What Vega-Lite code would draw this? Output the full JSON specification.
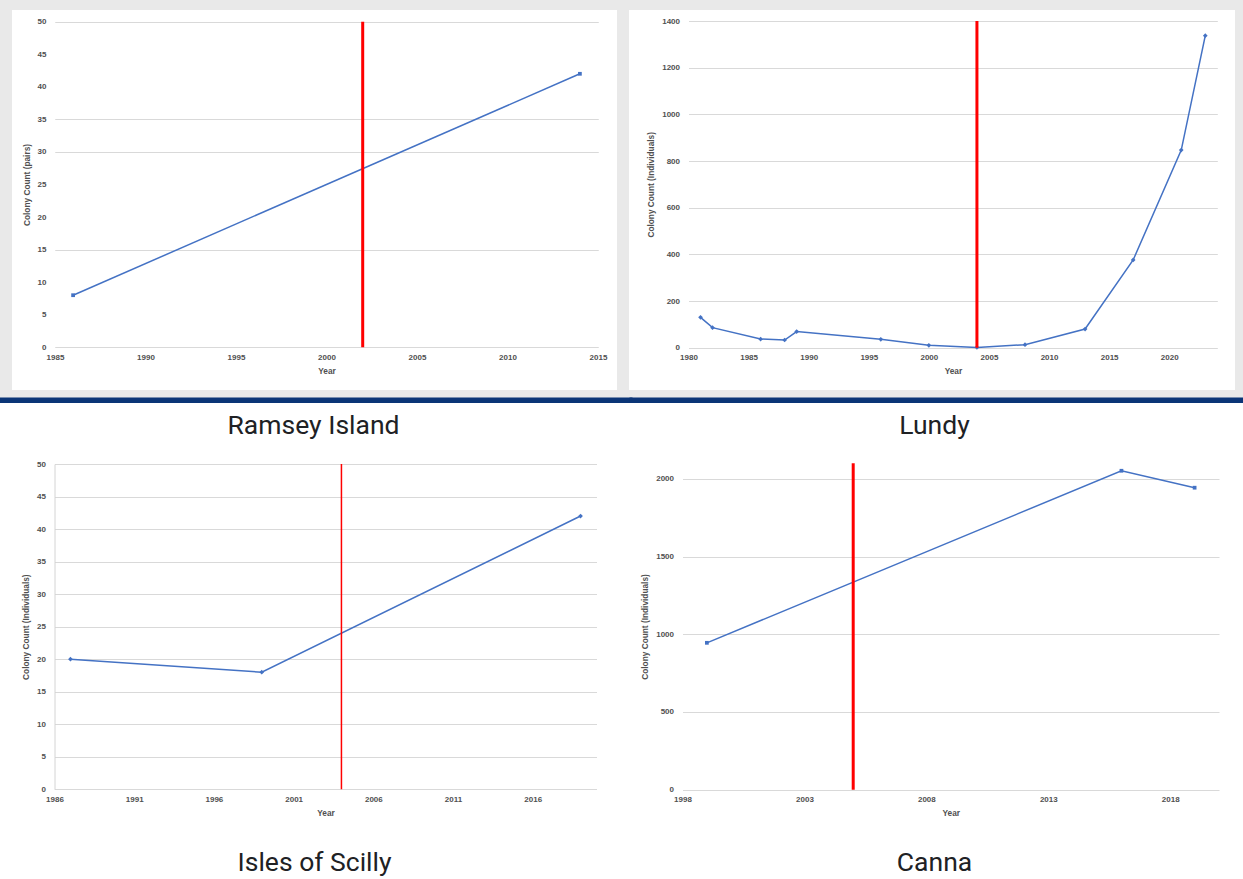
{
  "$schema": "https://vega.github.io/schema/vega-lite/v6.json",
  "background": "#e9e9e9",
  "padding": {"top": 10, "left": 0, "right": 0, "bottom": 0},
  "columns": 2,
  "spacing": {"row": 0, "column": 0},
  "bounds": "flush",
  "center": true,
  "datasets": {
    "ramsey": [{"year": 1986, "count": 8}, {"year": 2014, "count": 42}],
    "lundy": [
      {"year": 1981, "count": 130}, {"year": 1982, "count": 86}, {"year": 1986, "count": 37},
      {"year": 1988, "count": 33}, {"year": 1989, "count": 69}, {"year": 1996, "count": 36},
      {"year": 2000, "count": 10}, {"year": 2004, "count": 1}, {"year": 2008, "count": 13},
      {"year": 2013, "count": 80}, {"year": 2017, "count": 376}, {"year": 2021, "count": 847},
      {"year": 2023, "count": 1337}
    ],
    "scilly": [{"year": 1987, "count": 20}, {"year": 1999, "count": 18}, {"year": 2019, "count": 42}],
    "canna": [{"year": 1999, "count": 945}, {"year": 2016, "count": 2052}, {"year": 2019, "count": 1943}],
    "bar": [{"v": 0.5}]
  },
  "concat": [
    {
      "width": 605, "height": 380,
      "view": {"fill": "white", "stroke": null},
      "data": {"name": "ramsey"},
      "resolve": {"axis": {"y": "independent"}},
      "layer": [
        {
          "mark": {"type": "line", "color": "#4472c4", "strokeWidth": 1.5},
          "encoding": {
            "x": {"field": "year", "type": "quantitative",
              "scale": {"domain": [1985, 2015], "range": [43, 586], "nice": false, "zero": false},
              "axis": {"title": "Year", "values": [1985, 1990, 1995, 2000, 2005, 2010, 2015], "format": "d", "offset": -42.7}},
            "y": {"field": "count", "type": "quantitative",
              "scale": {"domain": [0, 50], "range": [337.3, 11.7], "nice": false},
              "axis": {"title": "Colony Count (pairs)", "values": [0, 5, 10, 15, 20, 25, 30, 35, 40, 45, 50], "offset": -43, "grid": false}}
          }
        },
        {
          "mark": {"type": "point", "shape": "square", "filled": true, "size": 14, "color": "#4472c4", "opacity": 1},
          "encoding": {
            "x": {"field": "year", "type": "quantitative"},
            "y": {"field": "count", "type": "quantitative",
              "axis": {"orient": "left", "offset": -43, "values": [0, 15, 30, 35, 50], "labels": false, "title": null, "grid": true}}
          }
        },
        {
          "data": {"values": [{"year": 2002}]},
          "mark": {"type": "rule", "color": "#ff0000", "strokeWidth": 3},
          "encoding": {
            "x": {"field": "year", "type": "quantitative"},
            "y": {"datum": 50, "axis": {"orient": "left", "offset": -43, "values": [0, 15, 30, 35, 50], "labels": false, "title": null, "grid": true}},
            "y2": {"datum": 0}
          }
        }
      ]
    },
    {
      "width": 606, "height": 380,
      "view": {"fill": "white", "stroke": null},
      "data": {"name": "lundy"},
      "layer": [
        {
          "mark": {"type": "line", "color": "#4472c4", "strokeWidth": 1.5},
          "encoding": {
            "x": {"field": "year", "type": "quantitative",
              "scale": {"domain": [1980, 2024], "range": [59.5, 588.3], "nice": false, "zero": false},
              "axis": {"title": "Year", "values": [1980, 1985, 1990, 1995, 2000, 2005, 2010, 2015, 2020], "format": "d", "offset": -42.3}},
            "y": {"field": "count", "type": "quantitative",
              "scale": {"domain": [0, 1400], "range": [337.7, 11], "nice": false},
              "axis": {"title": "Colony Count (Individuals)", "values": [0, 200, 400, 600, 800, 1000, 1200, 1400], "format": "d", "offset": -59.5}}
          }
        },
        {
          "mark": {"type": "point", "shape": "diamond", "filled": true, "size": 22, "color": "#4472c4", "opacity": 1},
          "encoding": {
            "x": {"field": "year", "type": "quantitative"},
            "y": {"field": "count", "type": "quantitative"}
          }
        },
        {
          "data": {"values": [{"year": 2004}]},
          "mark": {"type": "rule", "color": "#ff0000", "strokeWidth": 3},
          "encoding": {
            "x": {"field": "year", "type": "quantitative"},
            "y": {"datum": 1400},
            "y2": {"datum": 0}
          }
        }
      ]
    },
    {
      "width": 629, "height": 13,
      "data": {"name": "bar"},
      "mark": {"type": "point", "opacity": 0},
      "encoding": {
        "x": {"field": "v", "type": "quantitative", "scale": {"domain": [0, 1], "nice": false},
          "axis": {"domain": true, "domainColor": "#0b3577", "domainWidth": 6, "domainCap": "square", "labels": false, "ticks": false, "grid": false, "title": null, "offset": -3}}
      }
    },
    {
      "width": 614, "height": 13,
      "data": {"name": "bar"},
      "mark": {"type": "point", "opacity": 0},
      "encoding": {
        "x": {"field": "v", "type": "quantitative", "scale": {"domain": [0, 1], "nice": false},
          "axis": {"domain": true, "domainColor": "#0b3577", "domainWidth": 6, "domainCap": "butt", "labels": false, "ticks": false, "grid": false, "title": null, "offset": -3}}
      }
    },
    {
      "width": 629, "height": 476,
      "view": {"fill": "white", "stroke": null},
      "data": {"name": "scilly"},
      "resolve": {"axis": {"x": "independent"}},
      "layer": [
        {
          "mark": {"type": "line", "color": "#4472c4", "strokeWidth": 1.5},
          "encoding": {
            "x": {"field": "year", "type": "quantitative",
              "scale": {"domain": [1986, 2020], "range": [54.5, 596.5], "nice": false, "zero": false},
              "axis": {"title": "Year", "values": [1986, 1991, 1996, 2001, 2006, 2011, 2016], "format": "d", "offset": -89.7}},
            "y": {"field": "count", "type": "quantitative",
              "scale": {"domain": [0, 50], "range": [386.3, 61], "nice": false},
              "axis": {"title": "Colony Count (Individuals)", "values": [0, 5, 10, 15, 20, 25, 30, 35, 40, 45, 50], "offset": -54.5,
                "domain": true, "domainColor": "#d4d4d4", "domainWidth": 1}}
          }
        },
        {
          "mark": {"type": "point", "shape": "diamond", "filled": true, "size": 22, "color": "#4472c4", "opacity": 1},
          "encoding": {
            "x": {"field": "year", "type": "quantitative",
              "axis": {"orient": "top", "offset": 0, "title": "Ramsey Island", "labels": false, "ticks": false, "domain": false, "grid": false,
                "titleFont": "Roboto", "titleFontSize": 26.5, "titleFontWeight": "normal", "titleColor": "#202124",
                "titleX": 313, "titleY": 30, "titleAlign": "center", "titleBaseline": "alphabetic"}},
            "y": {"field": "count", "type": "quantitative"}
          }
        },
        {
          "data": {"values": [{"year": 2004}]},
          "mark": {"type": "rule", "color": "#ff0000", "strokeWidth": 1.5},
          "encoding": {
            "x": {"field": "year", "type": "quantitative",
              "axis": {"orient": "bottom", "offset": 0, "title": "Isles of Scilly", "labels": false, "ticks": false, "domain": false, "grid": false,
                "titleFont": "Roboto", "titleFontSize": 26.5, "titleFontWeight": "normal", "titleColor": "#202124",
                "titleX": 314, "titleY": -9, "titleAlign": "center", "titleBaseline": "alphabetic"}},
            "y": {"datum": 50},
            "y2": {"datum": 0}
          }
        }
      ]
    },
    {
      "width": 614, "height": 476,
      "view": {"fill": "white", "stroke": null},
      "data": {"name": "canna"},
      "resolve": {"axis": {"x": "independent"}},
      "layer": [
        {
          "mark": {"type": "line", "color": "#4472c4", "strokeWidth": 1.5},
          "encoding": {
            "x": {"field": "year", "type": "quantitative",
              "scale": {"domain": [1998, 2020], "range": [53.5, 590], "nice": false, "zero": false},
              "axis": {"title": "Year", "values": [1998, 2003, 2008, 2013, 2018], "format": "d", "offset": -89.3}},
            "y": {"field": "count", "type": "quantitative",
              "scale": {"domain": [0, 2100], "range": [386.7, 60.3], "nice": false},
              "axis": {"title": "Colony Count (Individuals)", "values": [0, 500, 1000, 1500, 2000], "format": "d", "offset": -53.5}}
          }
        },
        {
          "mark": {"type": "point", "shape": "square", "filled": true, "size": 14, "color": "#4472c4", "opacity": 1},
          "encoding": {
            "x": {"field": "year", "type": "quantitative",
              "axis": {"orient": "top", "offset": 0, "title": "Lundy", "labels": false, "ticks": false, "domain": false, "grid": false,
                "titleFont": "Roboto", "titleFontSize": 26.5, "titleFontWeight": "normal", "titleColor": "#202124",
                "titleX": 305, "titleY": 30, "titleAlign": "center", "titleBaseline": "alphabetic"}},
            "y": {"field": "count", "type": "quantitative"}
          }
        },
        {
          "data": {"values": [{"year": 2005}]},
          "mark": {"type": "rule", "color": "#ff0000", "strokeWidth": 3},
          "encoding": {
            "x": {"field": "year", "type": "quantitative",
              "axis": {"orient": "bottom", "offset": 0, "title": "Canna", "labels": false, "ticks": false, "domain": false, "grid": false,
                "titleFont": "Roboto", "titleFontSize": 26.5, "titleFontWeight": "normal", "titleColor": "#202124",
                "titleX": 305, "titleY": -9, "titleAlign": "center", "titleBaseline": "alphabetic"}},
            "y": {"datum": 2100},
            "y2": {"datum": 0}
          }
        }
      ]
    }
  ],
  "config": {
    "view": {"stroke": null},
    "axis": {
      "labelFont": "Liberation Sans", "labelFontSize": 8, "labelFontWeight": "bold", "labelColor": "#505050",
      "titleFont": "Liberation Sans", "titleFontSize": 8.3, "titleFontWeight": "bold", "titleColor": "#505050",
      "gridColor": "#d9d9d9", "gridWidth": 1, "ticks": false, "domain": false, "labelFlush": false, "labelOverlap": false
    },
    "axisX": {"grid": false, "labelPadding": 6, "titlePadding": 5},
    "axisY": {"labelPadding": 9, "titlePadding": 6}
  }
}
